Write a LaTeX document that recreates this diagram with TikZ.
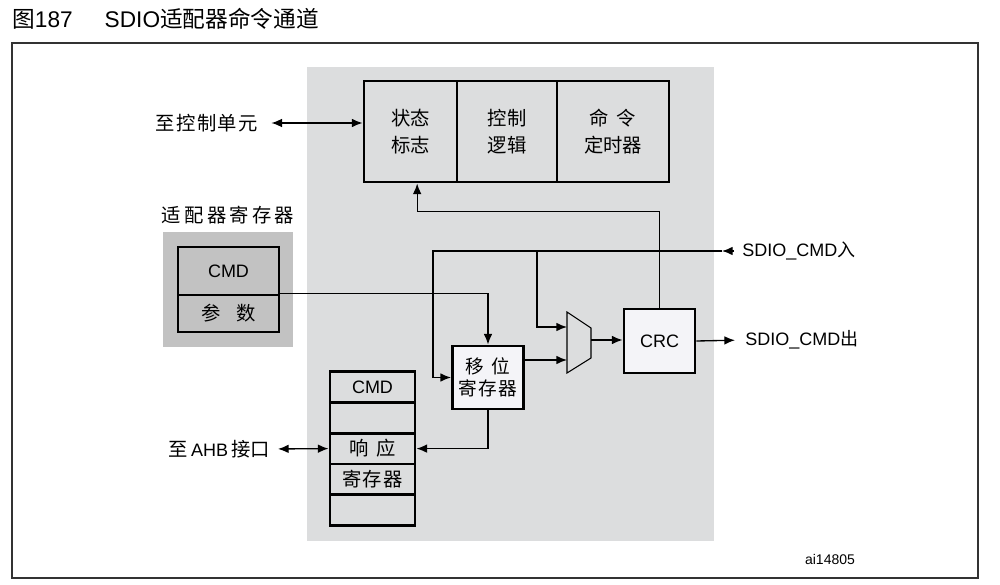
\documentclass[tikz,border=0pt]{standalone}
\usepackage{fontspec}
\setmainfont{Liberation Sans}
\newfontfamily\cjk{Noto Sans CJK SC}
\usetikzlibrary{arrows.meta}
\definecolor{panelgray}{HTML}{DCDDDE}
\definecolor{reggray}{HTML}{C2C2C2}
\definecolor{boxwhite}{HTML}{F4F4F8}
\begin{document}
\begin{tikzpicture}[x=0.75pt,y=-0.75pt]
 \tikzset{directed/.style={line width=1pt, -{Latex[length=8pt,width=6.5pt]}},
   bidir/.style={line width=1pt, {Latex[length=8pt,width=6.5pt]}-{Latex[length=8pt,width=6.5pt]}},
   lab/.style={font=\cjk\fontsize{14.5}{20}\selectfont, align=center, inner sep=0pt},
   latin/.style={font=\fontsize{13.5}{20}\selectfont, inner sep=0pt},
   cell/.style={draw, line width=2.2pt, fill=panelgray, lab},
   light/.style={draw, line width=2.2pt, fill=boxwhite, lab}}
 \useasboundingbox (0,0) rectangle (1000,585);
 % title and frame
 \node[anchor=base west, inner sep=0pt, font=\fontsize{17}{17}\selectfont] (title) at (12,28)
   {{\cjk 图}187\hspace{24pt}SDIO{\cjk 适配器命令通道}};
 \draw[line width=1.1pt, black!80] (12,43) rectangle (978,578);
 \fill[panelgray] (307,67) rectangle (714,541);
 \fill[reggray] (163,232) rectangle (293,347);
 % top block
 \node[cell, minimum width=69.75pt, minimum height=75.75pt] (status) at (410.5,131.5) {状态\\标志};
 \node[cell, minimum width=75pt, minimum height=75.75pt] (ctrl) at (507,131.5) {控制\\逻辑};
 \node[cell, minimum width=84pt, minimum height=75.75pt] (timer) at (613,131.5) {命\hspace{0.4em}令\\定时器};
 \node[lab, anchor=east] (ctrlunit) at (258,123) {至\kern1pt控\kern1pt制\kern1pt单\kern1pt元};
 % adapter registers
 \node[lab] (adlabel) at (228,215) {适\,配\,器\,寄\,存\,器};
 \node[cell, fill=reggray, latin, minimum width=75.75pt, minimum height=36pt] (cmdA) at (228.5,271) {CMD};
 \node[cell, fill=reggray, minimum width=75.75pt, minimum height=27.75pt] (param) at (228.5,313.5) {参\hspace{0.8em}数};
 % response register
 \node[cell, latin, minimum width=63.75pt, minimum height=23.1pt] (resp1) at (372.5,387) {CMD};
 \node[cell, minimum width=63.75pt, minimum height=23.1pt] (resp2) at (372.5,417.8) {};
 \node[cell, minimum width=63.75pt, minimum height=23.1pt] (resp3) at (372.5,448.6) {响\hspace{0.4em}应};
 \node[cell, minimum width=63.75pt, minimum height=23.1pt] (resp4) at (372.5,479.4) {寄\kern1pt存\kern1pt器};
 \node[cell, minimum width=63.75pt, minimum height=23.1pt] (resp5) at (372.5,510.2) {};
 \node[latin, anchor=east] (ahb) at (270,449) {{\cjk\fontsize{14.5}{20}\selectfont 至}\,AHB\,{\cjk\fontsize{14.5}{20}\selectfont 接口}};
 % shift register, mux and CRC
 \node[light, minimum width=53.25pt, minimum height=47.25pt, font=\cjk\fontsize{14}{17}\selectfont] (shiftreg) at (488,377.5) {移\hspace{0.4em}位\\寄\kern1pt存\kern1pt器};
 \node[light, latin, minimum width=53.25pt, minimum height=48pt] (crc) at (659.5,341) {CRC};
 \filldraw[fill=panelgray, line width=0.8pt] (567,312) -- (591,328) -- (591,358) -- (567,373) -- cycle;
 \coordinate (muxin1) at (567,327);
 \coordinate (muxin2) at (567,360);
 \coordinate (muxout) at (591,340);
 \coordinate (split1) at (433,251);
 \coordinate (split2) at (537,251);
 \node[latin, anchor=west] (cmdin) at (742,251) {SDIO\_CMD{\cjk 入}};
 \node[latin, anchor=west] (cmdout) at (745,340) {SDIO\_CMD{\cjk 出}};
 \node[font=\fontsize{10.5}{12}\selectfont, inner sep=0pt] (code) at (830,559) {ai14805};
 % connectors
 \draw[bidir, shorten <=10pt] (ctrlunit.east) -- (ctrlunit.east -| status.west);
 \draw[bidir, shorten <=6pt] (ahb.east) -- (resp3.west);
 \draw[directed, shorten <=6pt] (cmdin.west) -- ++(-20,0);
 \draw[directed, shorten <=15pt] (cmdin.west) -- (split1) |- (shiftreg.west);
 \draw[directed] (split2) |- (muxin1);
 \draw[directed] (param.north east) -| (shiftreg.north);
 \draw[directed] (shiftreg.east |- muxin2) -- (muxin2);
 \draw[directed] (shiftreg.south) |- (resp3.east);
 \draw[directed] (muxout) -- (crc.west |- muxout);
 \draw[directed, shorten >=7.5pt] (crc.east) -- (cmdout.west);
 \draw[directed] (crc.north) -- ++(0,-96) -| ([xshift=5pt]status.south);
\end{tikzpicture}
\end{document}
